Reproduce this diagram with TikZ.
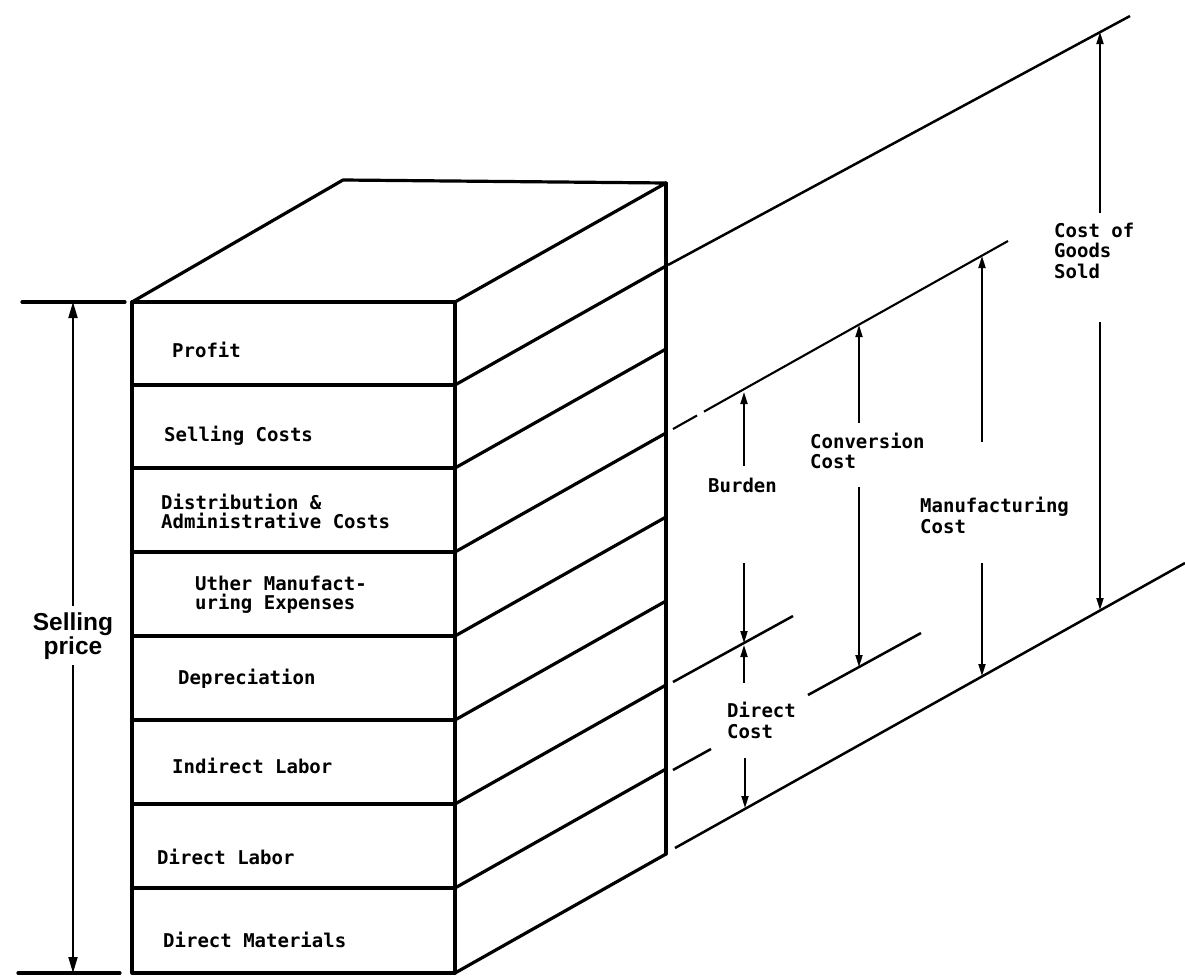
\documentclass[tikz,border=0pt]{standalone}
\usepackage{fontspec}
\newfontfamily\labfont{DejaVu Sans Mono}
\newfontfamily\spfont{Liberation Sans}
\usetikzlibrary{arrows.meta}
\tikzset{
  boxline/.style={line width=3.2pt, line cap=round, line join=round},
  extline/.style={line width=2.5pt},
  dimline/.style={line width=1.8pt, -{Triangle[length=12pt,width=7pt]}},
  spline/.style={line width=1.9pt, -{Triangle[length=16pt,width=9pt]}},
  lab/.style={font=\labfont\bfseries\fontsize{19}{20}\selectfont, anchor=base west, inner sep=0pt},
  splab/.style={font=\spfont\bfseries\fontsize{24.5}{28}\selectfont, anchor=base, inner sep=0pt}
}
\begin{document}
\begin{tikzpicture}[x=1pt,y=-1pt]
\useasboundingbox (0,0) rectangle (1185,977);

% ---- box: front face
\draw[boxline] (132,302) rectangle (455,973);
\foreach \y in {385,468,552,636,720,804,888}
  \draw[boxline] (132,\y) -- (455,\y);
% top face
\draw[boxline] (132,302) -- (343,180) -- (666,183) -- (455,302);
% back vertical edge
\draw[boxline] (666,183) -- (666,854);
% side diagonals
\foreach \y in {385,468,552,636,720,804,888,973}
  \draw[boxline] (455,\y) -- ++(211,-119);

% ---- extension lines
\coordinate (e1a) at (668,265);  \coordinate (e1b) at (1130,16);
\coordinate (e2a) at (673,429);  \coordinate (e2g) at (697,415.5);
\coordinate (e2h) at (704,411.6); \coordinate (e2b) at (1008,241);
\coordinate (e3a) at (673,682);  \coordinate (e3b) at (793,616);
\coordinate (e4a) at (673,770);  \coordinate (e4b) at (711,749);
\coordinate (e4c) at (808,695);  \coordinate (e4d) at (921,633);
\coordinate (e5a) at (675,848);  \coordinate (e5b) at (1185,563);
\draw[extline] (e1a) -- (e1b);
\draw[extline,line width=2.1pt] (e2a) -- (e2g);
\draw[extline,line width=2.1pt] (e2h) -- (e2b);
\draw[extline] (e3a) -- (e3b);
\draw[extline] (e4a) -- (e4b);
\draw[extline] (e4c) -- (e4d);
\draw[extline] (e5a) -- (e5b);

% ---- selling price
\coordinate (tk1a) at (22,302); \coordinate (tk1b) at (125,302);
\coordinate (tk2a) at (18,973); \coordinate (tk2b) at (120,973);
\draw[boxline] (tk1a) -- (tk1b);
\draw[boxline] (tk2a) -- (tk2b);
\coordinate (sptop) at (73,302);
\coordinate (spbot) at (73,973);
\coordinate (spu) at (73,606);
\coordinate (spl) at (73,665);
\draw[spline] (spu) -- (sptop);
\draw[spline] (spl) -- (spbot);
\node[splab] (sp1) at (73,630) {Selling};
\node[splab] (sp2) at (73,654) {price};

% ---- band labels
\node[lab] (profit) at (172,357) {Profit};
\node[lab] (selling) at (164,441) {Selling Costs};
\node[lab] (dist1) at (161,509) {Distribution \&};
\node[lab] (dist2) at (161,528) {Administrative Costs};
\node[lab] (oth1) at (195,590) {Uther Manufact-};
\node[lab] (oth2) at (195,609) {uring Expenses};
\node[lab] (depr) at (178,684) {Depreciation};
\node[lab] (indl) at (172,773) {Indirect Labor};
\node[lab] (dirl) at (157,864) {Direct Labor};
\node[lab] (dirm) at (163,947) {Direct Materials};

% ---- Burden
\coordinate (bua) at (744,466); \coordinate (but) at (744,392);
\coordinate (bub) at (744,563); \coordinate (bud) at (744,643);
\draw[dimline] (bua) -- (but);
\draw[dimline] (bub) -- (bud);
\node[lab] (burden) at (708,492) {Burden};

% ---- Direct Cost
\coordinate (dca) at (744,683); \coordinate (dct) at (744,645);
\coordinate (dcb) at (745,758); \coordinate (dcd) at (745,808);
\draw[dimline] (dca) -- (dct);
\draw[dimline] (dcb) -- (dcd);
\node[lab] (dc1) at (727,717) {Direct};
\node[lab] (dc2) at (727,738) {Cost};

% ---- Conversion Cost
\coordinate (cca) at (859,423); \coordinate (cct) at (859,325);
\coordinate (ccb) at (859,487); \coordinate (ccd) at (859,667);
\draw[dimline] (cca) -- (cct);
\draw[dimline] (ccb) -- (ccd);
\node[lab] (cc1) at (810,448) {Conversion};
\node[lab] (cc2) at (810,468) {Cost};

% ---- Manufacturing Cost
\coordinate (mca) at (982,442); \coordinate (mct) at (982,256);
\coordinate (mcb) at (982,563); \coordinate (mcd) at (982,676);
\draw[dimline] (mca) -- (mct);
\draw[dimline] (mcb) -- (mcd);
\node[lab] (mc1) at (920,512) {Manufacturing};
\node[lab] (mc2) at (920,533) {Cost};

% ---- Cost of Goods Sold
\coordinate (gsa) at (1100,213); \coordinate (gst) at (1100,32);
\coordinate (gsb) at (1100,322); \coordinate (gsd) at (1100,610);
\draw[dimline] (gsa) -- (gst);
\draw[dimline] (gsb) -- (gsd);
\node[lab] (gs1) at (1054,237) {Cost of};
\node[lab] (gs2) at (1054,257) {Goods};
\node[lab] (gs3) at (1054,278) {Sold};
\end{tikzpicture}
\end{document}
